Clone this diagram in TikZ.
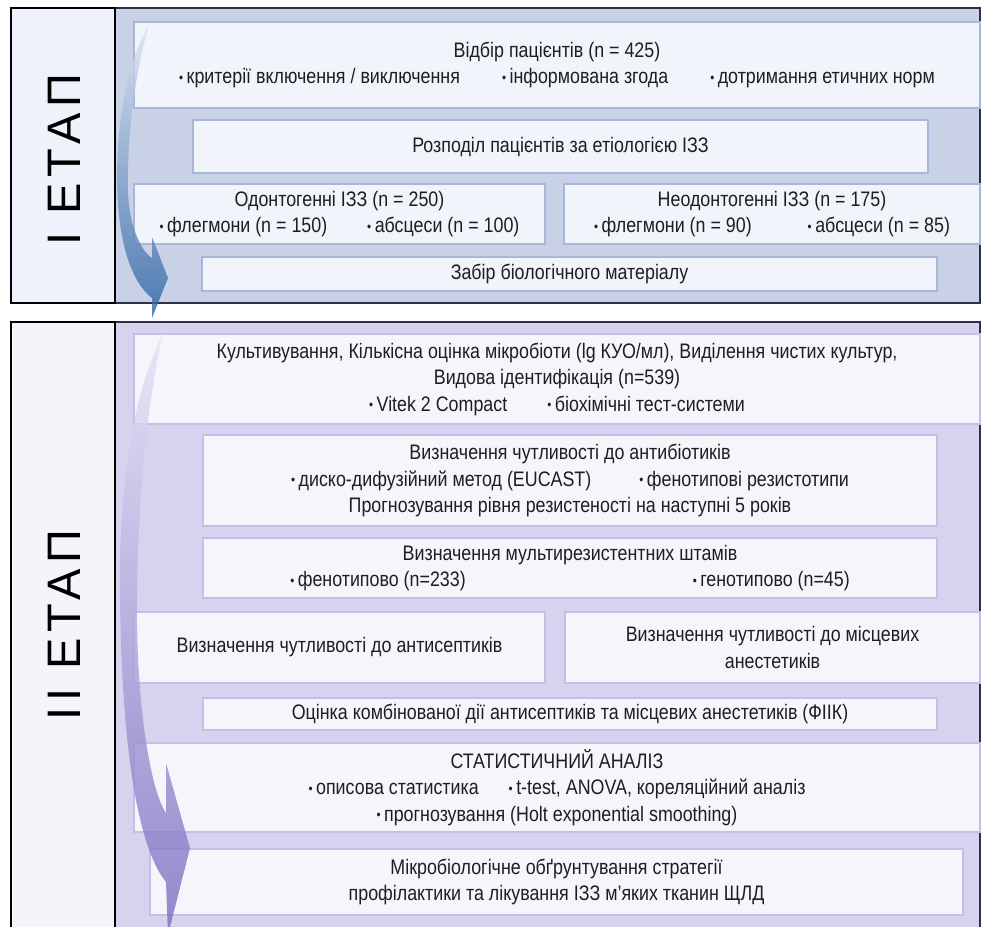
\documentclass[tikz,border=0pt]{standalone}
\usepackage{fontspec}
\setmainfont{Liberation Sans}[FakeStretch=0.85]
\newfontfamily\labelfont{Liberation Sans}[LetterSpace=12]
\definecolor{pAbg}{HTML}{C9D1E7}
\definecolor{pAbox}{HTML}{F1F4FB}
\definecolor{pAline}{HTML}{A8B6D9}
\definecolor{pAlab}{HTML}{EEF2FA}
\definecolor{pBbg}{HTML}{D7D3EF}
\definecolor{pBbox}{HTML}{F6F5FC}
\definecolor{pBline}{HTML}{C4BFE6}
\definecolor{pBlab}{HTML}{F6F4FB}
\definecolor{framec}{HTML}{2C3148}
\definecolor{txtc}{HTML}{1E1E1E}
\definecolor{arAtop}{HTML}{DCE4F2}
\definecolor{arAmid}{HTML}{7497C8}
\definecolor{arAbot}{HTML}{2E64A4}
\definecolor{arBtop}{HTML}{E6E3F6}
\definecolor{arBmid}{HTML}{A49CD9}
\definecolor{arBbot}{HTML}{786DC0}
\newcommand{\bul}{\raisebox{0.12ex}{\scalebox{0.65}{•}}\,}
\begin{document}
\begin{tikzpicture}[x=1pt,y=-1pt,
  every node/.style={inner sep=0pt, outer sep=0pt},
  txtst/.style={text=txtc, align=center, font=\fontsize{21}{26.5}\selectfont},
  panA/.style={draw=framec, line width=1.6pt, fill=pAbg, anchor=north west},
  panB/.style={draw=framec, line width=1.6pt, fill=pBbg, anchor=north west},
  labA/.style={draw=black, line width=1.6pt, fill=pAlab, anchor=north west},
  labB/.style={draw=black, line width=1.6pt, fill=pBlab, anchor=north west},
  labtxt/.style={rotate=90, text=black, font=\labelfont\fontsize{47}{47}\selectfont},
  boxA/.style={draw=pAline, line width=1.6pt, fill=pAbox, anchor=north west, txtst},
  boxB/.style={draw=pBline, line width=1.6pt, fill=pBbox, anchor=north west, txtst},
]
\useasboundingbox (0,0) rectangle (981,926);
\clip (0,0) rectangle (981,926);
\fill[white] (0,0) rectangle (981,926);

% ---------- panel I ----------
\node[panA, minimum width=865pt, minimum height=295pt] (panI) at (115,8) {};
\node[labA, minimum width=104pt, minimum height=295pt] (labI) at (11,8) {};
\node[labtxt] (labIt) at (64,160) {І ЕТАП};

\node[boxA, minimum width=846pt, minimum height=86pt] (b1) at (134,22)
  {Відбір пацієнтів (n = 425)\\
   \bul критерії включення / виключення\hspace{42pt}\bul інформована згода\hspace{42pt}\bul дотримання етичних норм};
\node[boxA, minimum width=735pt, minimum height=53pt] (b2) at (193,120)
  {Розподіл пацієнтів за етіологією ІЗЗ};
\node[boxA, minimum width=411pt, minimum height=60pt] (b3) at (134,184)
  {Одонтогенні ІЗЗ (n = 250)\\ \bul флегмони (n = 150)\hspace{40pt}\bul абсцеси (n = 100)};
\node[boxA, minimum width=416pt, minimum height=60pt] (b4) at (564,184)
  {Неодонтогенні ІЗЗ (n = 175)\\ \bul флегмони (n = 90)\hspace{56pt}\bul абсцеси (n = 85)};
\node[boxA, minimum width=735pt, minimum height=34pt] (b5) at (202,257)
  {Забір біологічного матеріалу};

% ---------- panel II ----------
\node[panB, minimum width=865pt, minimum height=640pt] (panII) at (115,322) {};
\node[labB, minimum width=104pt, minimum height=640pt] (labII) at (11,322) {};
\node[labtxt] (labIIt) at (64,625) {ІІ ЕТАП};

\node[boxB, minimum width=846pt, minimum height=90pt] (bA) at (134,334)
  {Культивування, Кількісна оцінка мікробіоти (lg КУО/мл), Виділення чистих культур,\\
   Видова ідентифікація (n=539)\\
   \bul Vitek 2 Compact\hspace{40pt}\bul біохімічні тест-системи};
\node[boxB, minimum width=734pt, minimum height=91pt] (bB) at (203,435)
  {Визначення чутливості до антибіотиків\\
   \bul диско-дифузійний метод (EUCAST)\hspace{48pt}\bul фенотипові резистотипи\\
   Прогнозування рівня резистеності на наступні 5 років};
\node[boxB, minimum width=734pt, minimum height=60pt] (bC) at (203,538)
  {Визначення мультирезистентних штамів\\
   \bul фенотипово (n=233)\hspace{227pt}\bul генотипово (n=45)};
\node[boxB, minimum width=411pt, minimum height=71pt] (bD) at (134,612)
  {Визначення чутливості до антисептиків};
\node[boxB, minimum width=415pt, minimum height=71pt] (bE) at (565,612)
  {Визначення чутливості до місцевих\\ анестетиків};
\node[boxB, minimum width=734pt, minimum height=32pt] (bF) at (203,698)
  {Оцінка комбінованої дії антисептиків та місцевих анестетиків (ФІІК)};
\node[boxB, minimum width=846pt, minimum height=89pt] (bG) at (134,743)
  {СТАТИСТИЧНИЙ АНАЛІЗ\\
   \bul описова статистика\hspace{30pt}\bul t-test, ANOVA, кореляційний аналіз\\
   \bul прогнозування (Holt exponential smoothing)};
\node[boxB, minimum width=813pt, minimum height=66pt] (bH) at (150,849)
  {Мікробіологічне обґрунтування стратегії\\
   профілактики та лікування ІЗЗ м’яких тканин ЩЛД};

% ---------- curved arrows ----------
\path[top color=arAtop, middle color=arAmid, bottom color=arAbot, fill opacity=0.8]
  (149,25) .. controls (122,70) and (114,150) .. (118,205)
  .. controls (122,255) and (135,285) .. (152,298)
  -- (152,318) -- (168,278) -- (152,237) -- (152,258)
  .. controls (140,250) and (129,225) .. (128,190)
  .. controls (127,130) and (136,70) .. (149,25) -- cycle;
\path[top color=arBtop, middle color=arBmid, bottom color=arBbot, fill opacity=0.8]
  (163,333) .. controls (130,400) and (118,500) .. (120,600)
  .. controls (122,760) and (140,850) .. (166,882)
  -- (168,935) -- (190,848) -- (166,763) -- (166,813)
  .. controls (150,790) and (136,700) .. (137,600)
  .. controls (138,480) and (150,390) .. (163,333) -- cycle;
\end{tikzpicture}
\end{document}
